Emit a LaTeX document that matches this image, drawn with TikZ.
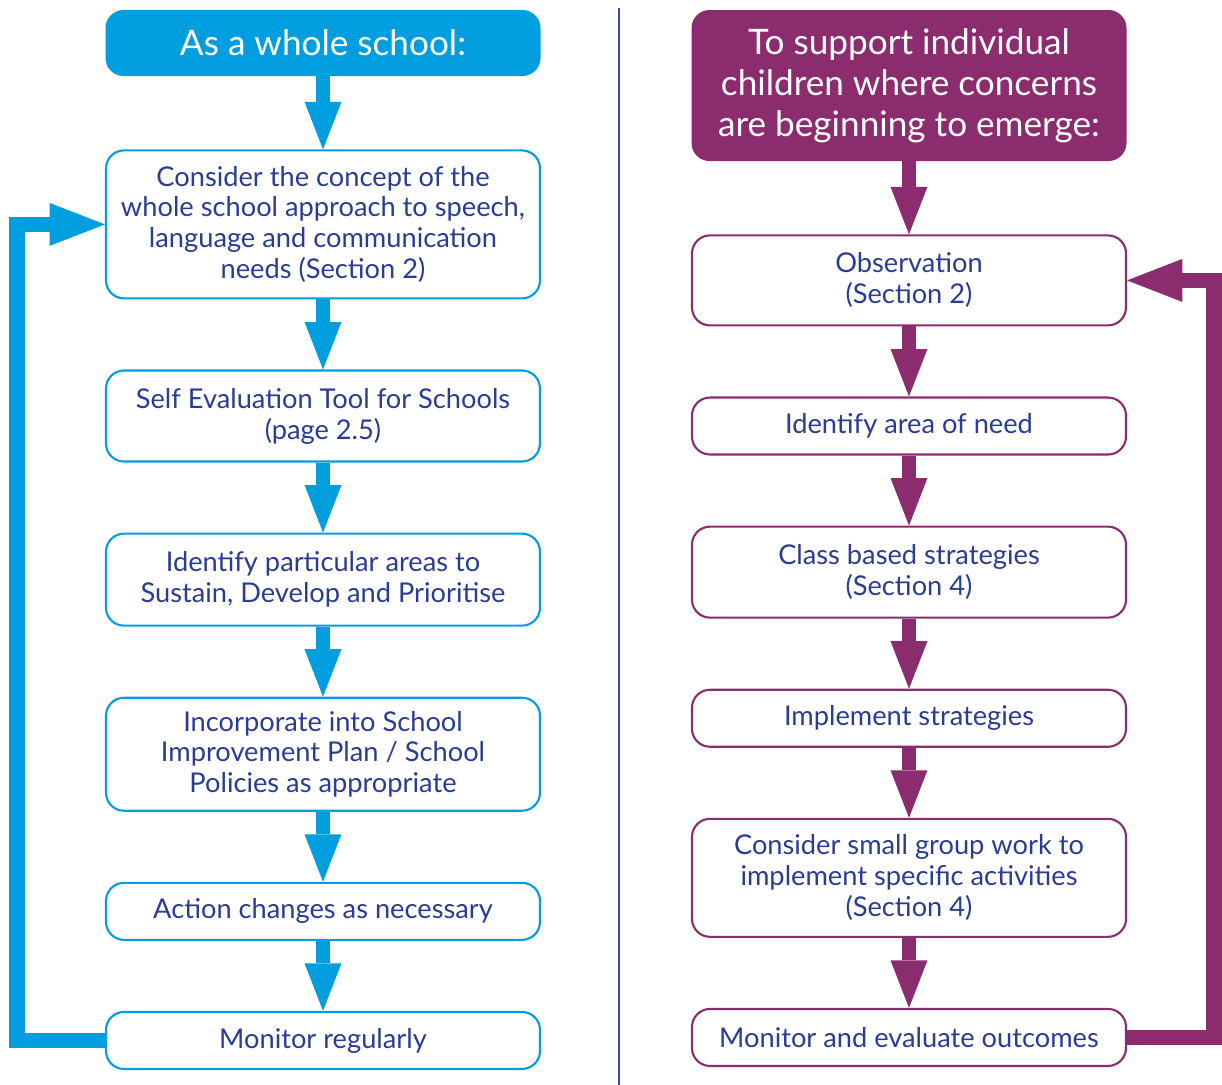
\documentclass[tikz,border=0pt]{standalone}
\usepackage{fontspec}
\setmainfont{Lato}
\usetikzlibrary{positioning}
\usetikzlibrary{arrows.meta}

\definecolor{schoolblue}{RGB}{0,158,222}
\definecolor{childpurple}{RGB}{139,44,110}
\definecolor{textnavy}{RGB}{42,60,148}
\definecolor{dividerblue}{RGB}{52,78,168}

\tikzset{
  stepbox/.style={draw, line width=1.2pt, rounded corners=0.36cm, fill=white, text=textnavy, align=center, minimum width=8.68cm, minimum height=1.14cm, inner sep=0pt, font=\fontsize{15.5}{17.6}\selectfont},
  headbox/.style={rounded corners=0.36cm, text=white, align=center, minimum width=8.7cm, inner sep=0pt, font=\fontsize{20}{23.3}\selectfont},
  fatarrow/.style={line width=8.5pt, -{Triangle[width=21pt,length=27pt,line width=0pt]}},
  looparrow/.style={line width=9pt, line join=miter, -{Triangle[width=24.5pt,length=31.5pt,line width=0pt]}}
}

\begin{document}
\begin{tikzpicture}

\useasboundingbox (0,0) rectangle (24.44,-21.7);

\draw[dividerblue, line width=1.6pt] (12.38,-0.16) -- (12.38,-21.7);

\begin{scope}
{
% boxes
{
\node[headbox, fill=schoolblue, minimum height=1.32cm] (wholeL) at (6.46,-0.86) {As a whole school:};

\node[stepbox, draw=schoolblue, minimum height=2.96cm, below=1.46cm of wholeL] (considerL)
{Consider the concept of the\\whole school approach to speech,\\language and communication\\needs (Section 2)};
\node[stepbox, draw=schoolblue, minimum height=1.82cm, below=1.40cm of considerL] (selfevalL)
{Self Evaluation Tool for Schools\\(page 2.5)};
\node[stepbox, draw=schoolblue, minimum height=1.84cm, below=1.40cm of selfevalL] (areasL)
{Identify particular areas to\\Sustain, Develop and Prioritise};
\node[stepbox, draw=schoolblue, minimum height=2.26cm, below=1.40cm of areasL] (planL)
{Incorporate into School\\Improvement Plan / School\\Policies as appropriate};
\node[stepbox, draw=schoolblue, below=1.40cm of planL] (actionL)
{Action changes as necessary};
\node[stepbox, draw=schoolblue, below=1.40cm of actionL] (monitorL)
{Monitor regularly};
}

% arrows
{
\draw[fatarrow, schoolblue] (wholeL.south) -- (considerL.north);
\draw[fatarrow, schoolblue] (considerL.south) -- (selfevalL.north);
\draw[fatarrow, schoolblue] (selfevalL.south) -- (areasL.north);
\draw[fatarrow, schoolblue] (areasL.south) -- (planL.north);
\draw[fatarrow, schoolblue] (planL.south) -- (actionL.north);
\draw[fatarrow, schoolblue] (actionL.south) -- (monitorL.north);

\draw[looparrow, schoolblue] (monitorL.west) -- ++(-1.76,0) |- (considerL.west);
}
}
\end{scope}

\begin{scope}
{
% boxes
{
\node[headbox, fill=childpurple, minimum height=3.02cm] (supportR) at (18.18,-1.71)
{To support individual\\children where concerns\\are beginning to emerge:};

\node[stepbox, draw=childpurple, minimum height=1.80cm, below=1.46cm of supportR] (observeR)
{Observation\\(Section 2)};
\node[stepbox, draw=childpurple, below=1.40cm of observeR] (needR)
{Identify area of need};
\node[stepbox, draw=childpurple, minimum height=1.82cm, below=1.40cm of needR] (classR)
{Class based strategies\\(Section 4)};
\node[stepbox, draw=childpurple, below=1.40cm of classR] (implementR)
{Implement strategies};
\node[stepbox, draw=childpurple, minimum height=2.36cm, below=1.40cm of implementR] (groupR)
{Consider small group work to\\implement specific activities\\(Section 4)};
\node[stepbox, draw=childpurple, below=1.40cm of groupR] (monitorR)
{Monitor and evaluate outcomes};
}

% arrows
{
\draw[fatarrow, childpurple] (supportR.south) -- (observeR.north);
\draw[fatarrow, childpurple] (observeR.south) -- (needR.north);
\draw[fatarrow, childpurple] (needR.south) -- (classR.north);
\draw[fatarrow, childpurple] (classR.south) -- (implementR.north);
\draw[fatarrow, childpurple] (implementR.south) -- (groupR.north);
\draw[fatarrow, childpurple] (groupR.south) -- (monitorR.north);

\draw[looparrow, childpurple] (monitorR.east) -- ++(1.74,0) |- (observeR.east);
}
}
\end{scope}

\end{tikzpicture}
\end{document}
